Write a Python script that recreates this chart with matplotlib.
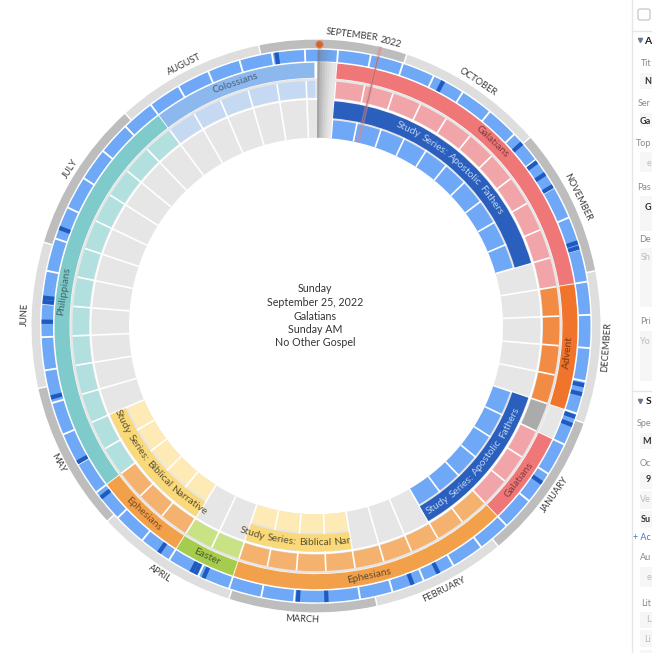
#!/usr/bin/env python
# coding: utf-8

import numpy as np
import matplotlib
matplotlib.use('Agg')
import matplotlib.pyplot as plt
from matplotlib.patches import FancyBboxPatch

plt.rcParams['font.family'] = ['Lato', 'DejaVu Sans']

# week 0 starts just right of the top, 52 weeks round the circle
WEEK_START = 4.6
WEEK_STEP = 360.0 / 52

months = ['SEPTEMBER 2022', 'OCTOBER', 'NOVEMBER', 'DECEMBER', 'JANUARY', 'FEBRUARY',
          'MARCH', 'APRIL', 'MAY', 'JUNE', 'JULY', 'AUGUST']
month_edges = [-11.6, 18.6, 48.8, 78.9, 109.8, 140.2, 167.6, 197.8, 227.1, 257.4, 287.0, 317.9, 348.4]
month_label_pos = [9.5, 33.8, 63.9, 94.1, 125.0, 153.9, 182.7, 212.5, 242.2, 272.2, 302.5, 333.1]

# date marks on the week ring, degrees clockwise from the top
marks = [27.6, 48.6, 53.6, 56.6, 59.6, 72.4, 73.5, 102.4, 104.3, 109.2, 111.0, 124.6, 153.5, 159.4,
         177.8, 183.8, 204.2, 206.1, 207.0, 214.9, 231.6, 240.4, 255.0, 270.9, 275.0, 275.9, 290.8, 351.7]

# main series: name, first week, weeks, label angle
main_names = ['Galatians', 'Advent', 'Galatians', 'Ephesians', 'Easter', 'Ephesians', 'Philippians', 'Colossians']
main_first = [0, 11, 16, 19, 28, 30, 33, 46]
main_weeks = [11, 4, 3, 9, 2, 3, 13, 5.3]
main_label = [43.8, 95.9, 126.9, 168.0, 205.4, 222.8, 277.9, 341.5]
main_dark = ['#ef7777', '#f0742b', '#ef7777', '#f2a04a', '#a5cc4c', '#f2a04a', '#7fcaca', '#8cb8ee']
main_light = ['#f2a5a8', '#f28c45', '#f2a5a8', '#f5b26e', '#c9e285', '#f5b26e', '#b2e0df', '#c6d9f3']
main_text = ['#7d3b3e', '#7a3a14', '#7d3b3e', '#5d4a30', '#4c5a2a', '#7a4a20', '#3f6668', '#47607e']

# study series on the inner rings
study_names = ['Study Series: Apostolic Fathers', 'Study Series: Apostolic Fathers',
               'Study Series: Biblical Nar', 'Study Series: Biblical Narrative']
study_first = [0, 15, 24, 30]
study_weeks = [10, 6, 4, 5]
study_label = [40.4, 130.5, 185.7, 229.0]
study_dark = ['#2a5fbd', '#2a5fbd', '#fad97a', '#fad97a']
study_light = ['#6ea8f7', '#6ea8f7', '#fdeab5', '#fdeab5']
study_text = ['#bcd3f5', '#bcd3f5', '#5c5232', '#5c5232']

center_lines = ['Sunday', 'September 25, 2022', 'Galatians', 'Sunday AM', 'No Other Gospel']

# sidebar cut off by the right edge of the screenshot
side_labels = ['Tit', 'Ser', 'Top', 'Pas', 'De', 'Pri', 'Spe', 'Oc', 'Au', 'Lit']
side_label_y = [64, 104, 143, 187, 240, 322, 424, 463, 557, 603]
side_fields_top = [73, 113, 152, 196, 248, 331, 433, 472, 491, 511, 567, 612, 630, 650]
side_fields_bot = [90, 128, 173, 232, 308, 382, 450, 490, 510, 529, 588, 629, 648, 670]
side_values = ['N', 'Ga', 'e', 'G', 'Sh', 'Yo', 'M', '9', 'Ve', 'Su', 'e', 'L', 'Li']
side_value_y = [81, 121, 163, 207, 258, 341, 441, 480, 500, 520, 577, 620, 639]
side_value_col = ['#333333', '#333333', '#bbbbbb', '#333333', '#bbbbbb', '#bbbbbb', '#333333',
                  '#333333', '#bbbbbb', '#333333', '#bbbbbb', '#bbbbbb', '#bbbbbb']


def rad(deg):
    return np.radians(deg)


def week_angle(week):
    return WEEK_START + week * WEEK_STEP


def ring(ax, start, end, r0, r1, color, **kw):
    # one arc segment, angles in degrees
    ax.bar(rad((start + end) / 2.0), r1 - r0, width=rad(end - start), bottom=r0, color=color,
           linewidth=0, **kw)


def arc_text(ax, label, deg, r, size, color, weight='normal'):
    # word by word along the arc, flipped on the lower half
    renderer = ax.figure.canvas.get_renderer()
    words = label.split(' ')
    widths = []
    for w in words:
        t = ax.text(0, 0, w, fontsize=size, fontweight=weight)
        widths.append(t.get_window_extent(renderer).width)
        t.remove()
    gap = size * 0.36
    total = sum(widths) + gap * (len(words) - 1)
    d = deg % 360
    flip = 90 < d < 270
    sign = -1 if flip else 1
    pos = -total / 2.0
    for w, width in zip(words, widths):
        a = deg + sign * np.degrees((pos + width / 2.0) / r)
        rot = 180 - a if flip else -a
        ax.text(rad(a), r, w, fontsize=size, color=color, ha='center', va='center',
                rotation=rot, rotation_mode='anchor', fontweight=weight)
        pos += width + gap


fig = plt.figure(figsize=(6.52, 6.53), dpi=100)
# centre of the wheel at pixel (316, 326), the screenshot is a touch taller than wide
ax = fig.add_axes([16 / 652.0, 25 / 653.0, 600 / 652.0, 604 / 653.0], projection='polar')
ax.set_aspect('auto')
ax.set_theta_zero_location('N')
ax.set_theta_direction(-1)
ax.set_ylim(0, 300)
ax.set_axis_off()

# month ring
for i in range(len(months)):
    col = '#bdbdbd' if i % 2 == 0 else '#dedede'
    ring(ax, month_edges[i] + 0.15, month_edges[i + 1] - 0.15, 276, 284.5, col)
    arc_text(ax, months[i], month_label_pos[i], 291.5, 6.7, '#3a3a3a')

# week ring
for k in range(52):
    ring(ax, week_angle(k) + 0.2, week_angle(k + 1) - 0.2, 263, 274.5, '#6ea8f7')
for m in marks:
    ring(ax, m - 0.45, m + 0.45, 263, 274.5, '#1f5bbf')

# grey background of the inner rings
ring(ax, 0, 360, 187, 246, '#e6e6e6')
ax.plot(np.linspace(0, 2 * np.pi, 400), np.full(400, 225.5), color='white', lw=1.3, zorder=1)

# main series and the lighter cells under them
for i in range(len(main_names)):
    first = main_first[i]
    n = main_weeks[i]
    ring(ax, week_angle(first) + 0.1, week_angle(first + n) - 0.1, 246.5, 261.5, main_dark[i])
    for j in range(int(np.ceil(n))):
        ring(ax, week_angle(first + j), week_angle(first + min(j + 1, n)), 227, 243.5, main_light[i])

# cell with nothing scheduled, next to the week of the advent series
ring(ax, week_angle(15) + 0.1, week_angle(16) - 0.1, 246.5, 261.5, '#e6e6e6')
ring(ax, week_angle(15), week_angle(16), 227, 243.5, '#ababab')

# study series, light cells first
for i in range(len(study_names)):
    first = study_first[i]
    for j in range(study_weeks[i]):
        ring(ax, week_angle(first + j), week_angle(first + j + 1), 187, 205, study_light[i])

# white separators between the cells, under the dark study bands
for k in range(52):
    a = rad(week_angle(k))
    ax.plot([a, a], [187, 243.5], color='white', lw=1.2, solid_capstyle='butt', zorder=1)

for i in range(len(study_names)):
    first = study_first[i]
    ring(ax, week_angle(first) + 0.1, week_angle(first + study_weeks[i]) - 0.1, 207, 224, study_dark[i])

# today column, fading to the right
ring(ax, 0.3, 4.5, 187, 262, '#e6e6e6')
for s, al in zip(range(6), [0.62, 0.42, 0.3, 0.2, 0.12, 0.05]):
    ring(ax, 0.3 + s * 0.55, 0.85 + s * 0.55, 187, 274.5, '#777777', alpha=al)

# selected sermon line and today dot
ax.plot([rad(13.0), rad(13.1)], [187, 285], color='#e9868a', lw=2.4, alpha=0.5, solid_capstyle='butt')
ax.plot([rad(13.0), rad(13.1)], [207, 275], color='#555555', lw=0.7, alpha=0.4, solid_capstyle='butt')
ax.plot([rad(0.6)], [280.5], 'o', color='#d9622b', ms=5.5, mec='#c9a08a', mew=0.7)

# ring labels
for i in range(len(main_names)):
    arc_text(ax, main_names[i], main_label[i], 254, 7.4, main_text[i])
for i in range(len(study_names)):
    arc_text(ax, study_names[i], study_label[i], 215.5, 7.4, study_text[i])

# page coordinates for the centre text and the sidebar
page = fig.add_axes([0, 0, 1, 1], facecolor='none')
page.set_xlim(0, 652)
page.set_ylim(653, 0)
page.set_axis_off()

for y, line in zip([288.3, 302.3, 316, 329.7, 343], center_lines):
    page.text(315, y, line, ha='center', va='center', fontsize=7.7, color='#333333')

page.plot([632, 632], [0, 653], color='#e6e6e6', lw=1)
page.plot([632, 652], [31, 31], color='#e6e6e6', lw=1)
page.plot([632, 652], [391, 391], color='#e6e6e6', lw=1)
page.add_patch(FancyBboxPatch((638, 9), 12, 11, boxstyle='round,pad=0,rounding_size=2',
                              fc='white', ec='#cccccc', lw=1))
for top, bot in zip(side_fields_top, side_fields_bot):
    page.add_patch(FancyBboxPatch((640, top), 20, bot - top - 1, boxstyle='round,pad=0,rounding_size=2',
                                  fc='#f6f6f6', ec='none', clip_on=True))
for y in [40, 401]:
    page.plot([640], [y], 'v', color='#6a7a8c', ms=3)
page.text(651, 41, 'A', fontsize=7.5, fontweight='bold', va='center', ha='right', color='#222222')
page.text(651, 401, 'S', fontsize=7.5, fontweight='bold', va='center', ha='right', color='#222222')
for lab, y in zip(side_labels, side_label_y):
    page.text(651, y, lab, fontsize=6.5, va='center', ha='right', color='#8a8a8a')
for val, y, c in zip(side_values, side_value_y, side_value_col):
    page.text(651, y, val, fontsize=6.5, va='center', ha='right', color=c,
              fontweight='bold' if c == '#333333' else 'normal')
page.text(651, 537, '+ Ac', fontsize=6.5, va='center', ha='right', color='#3b78d8')

plt.savefig('out.png', dpi=100)
